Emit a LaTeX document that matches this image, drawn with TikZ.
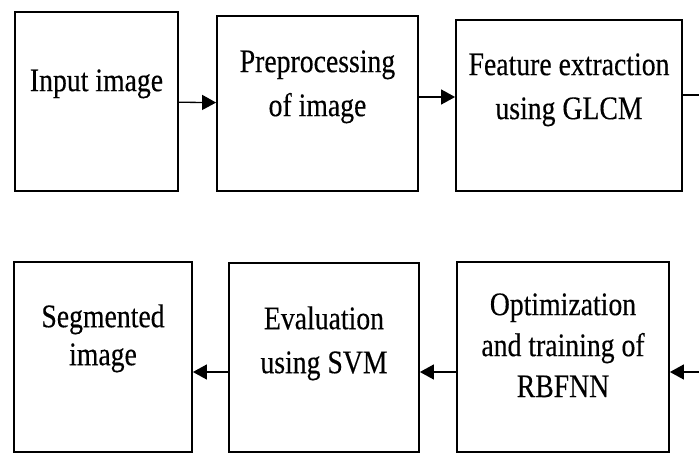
\documentclass[tikz,border=0pt]{standalone}
\usepackage{fontspec}
\setmainfont{Liberation Serif}[FakeStretch=0.84, FakeBold=0.3]
\usetikzlibrary{arrows.meta,positioning}

\begin{document}
\begin{tikzpicture}[x=1pt, y=-1pt,
    blk/.style={draw, line width=1.8pt, inner sep=0pt},
    txt/.style={anchor=north, align=center, inner sep=0pt,
        font=\fontsize{33}{44}\selectfont},
    flow/.style={line width=1.3pt, -{Triangle[length=14pt,width=15pt]}}]
    \useasboundingbox (0,0) rectangle (699,453);

    % Top row of blocks
    \node[blk, minimum width=163pt, minimum height=179pt] (input) at (96.5,101.5) {};
    \node[blk, minimum width=201pt, minimum height=175pt] (prep) at (317.5,103.5) {};
    \node[blk, minimum width=226pt, minimum height=171pt] (feat) at (569,105.5) {};

    % Bottom row of blocks
    \node[blk, minimum width=178pt, minimum height=190pt] (seg) at (103,357) {};
    \node[blk, minimum width=190pt, minimum height=189pt] (eval) at (324,357.5) {};
    \node[blk, minimum width=212pt, minimum height=190pt] (optim) at (563,357) {};

    % Block texts
    \node[txt] (inputtxt) at ([yshift=-58pt]input.north) {Input image};
    \node[txt] (preptxt) at ([yshift=-35pt]prep.north) {Preprocessing\\of image};
    \node[txt] (feattxt) at ([yshift=-34pt]feat.north) {Feature extraction\\using GLCM};
    \node[txt, font=\fontsize{33}{38}\selectfont] (segtxt) at ([yshift=-43pt]seg.north) {Segmented\\image};
    \node[txt] (evaltxt) at ([yshift=-44pt]eval.north) {Evaluation\\using SVM};
    \node[txt, font=\fontsize{33}{41}\selectfont] (optimtxt) at ([yshift=-32pt]optim.north) {Optimization\\and training of\\RBFNN};

    % Loose ends at the right border
    \coordinate (outR) at (699,95);
    \coordinate (inR) at (699,372);
    \coordinate (pe) at ([yshift=6.5pt]prep.east);

    % Connections
    \draw[flow] (input) -- (prep);
    \draw[flow] (pe) -- (pe -| feat.west);
    \draw[line width=1.3pt] (feat.east |- outR) -- (outR);
    \draw[flow] (inR) -- (inR -| optim.east);
    \draw[flow] (optim.west |- inR) -- (eval.east |- inR);
    \draw[flow] (eval.west |- inR) -- (seg.east |- inR);
\end{tikzpicture}
\end{document}
